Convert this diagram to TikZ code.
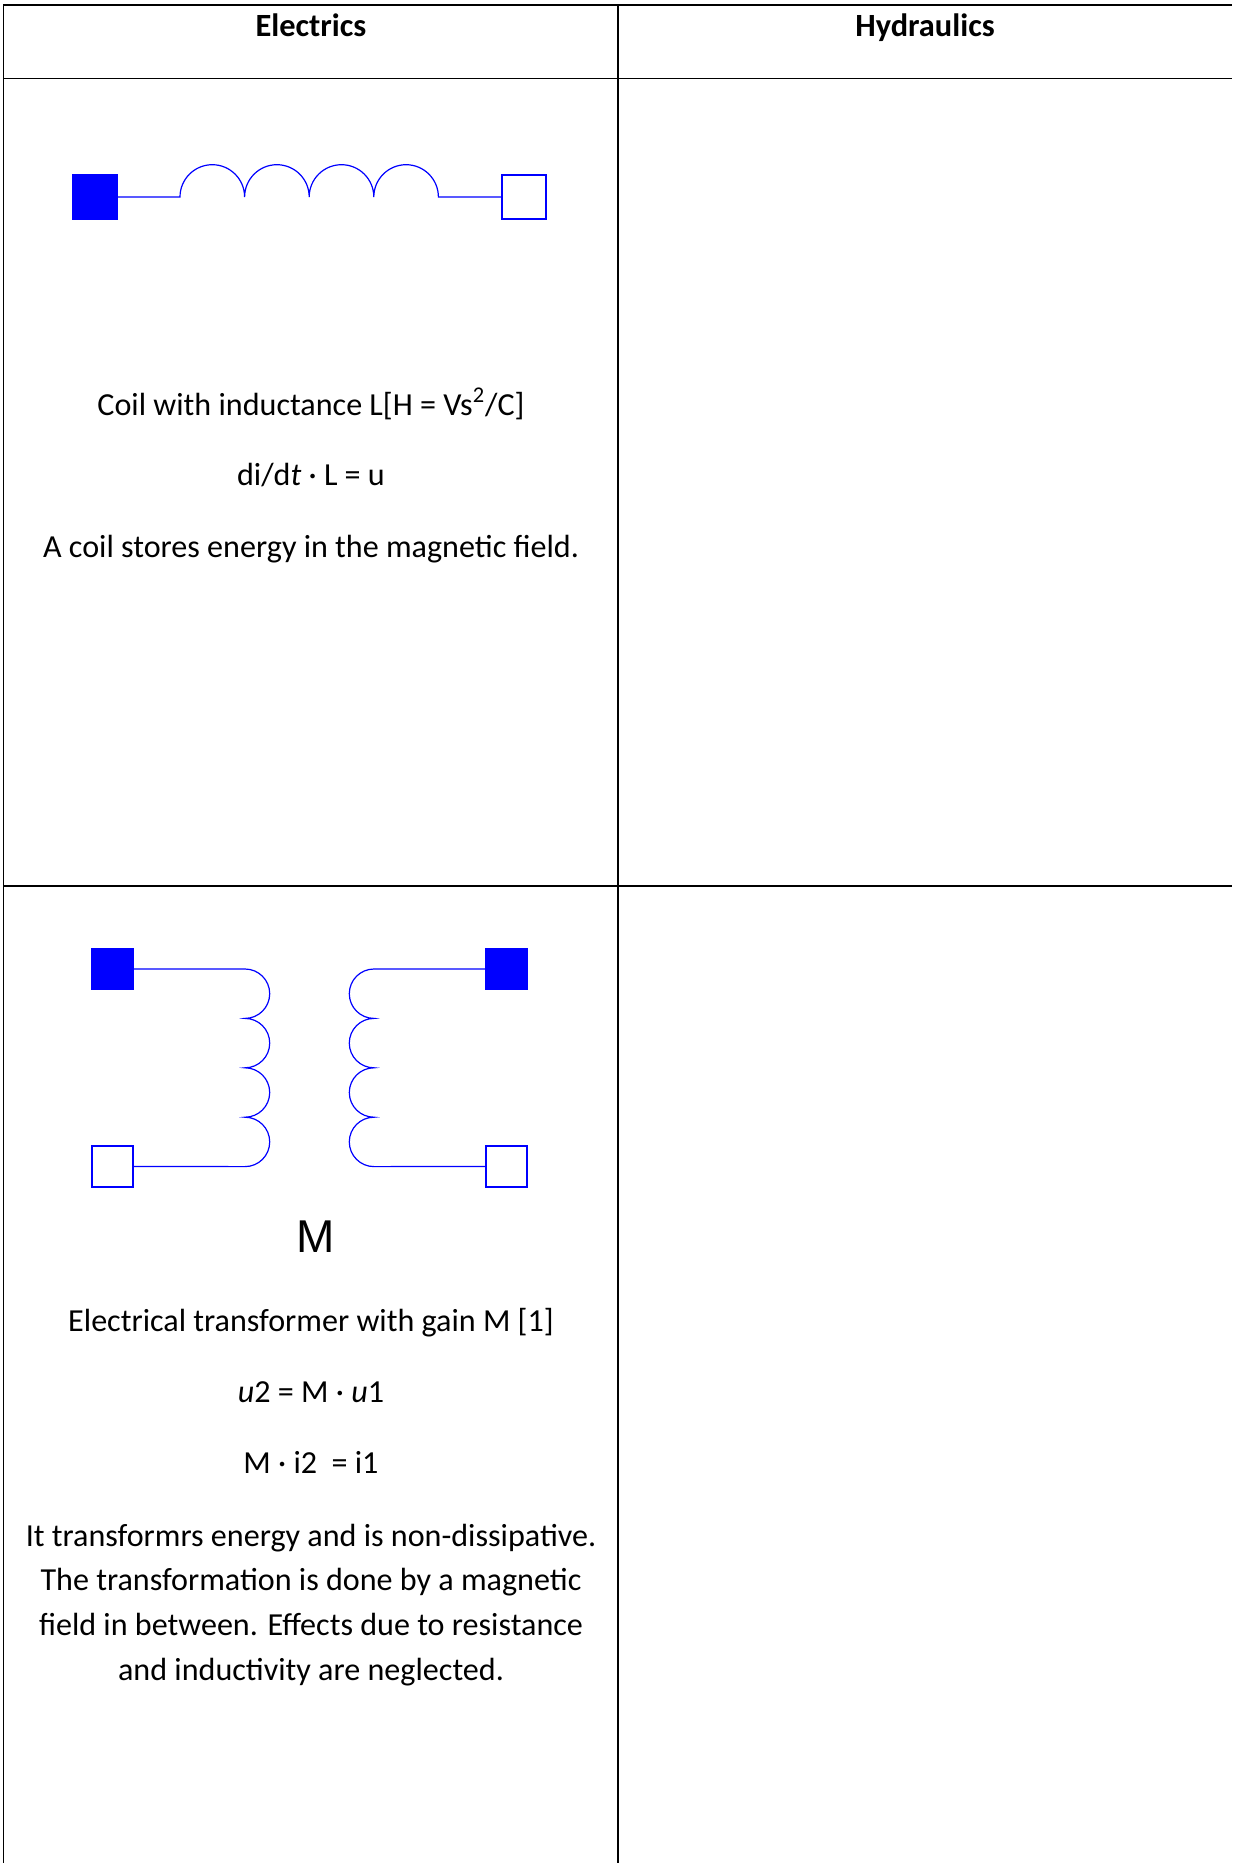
\documentclass[tikz,border=0pt]{standalone}
\usepackage{fontspec}
\setmainfont{Carlito}
\newfontfamily\labelfont{Liberation Sans}
\usetikzlibrary{positioning}

\tikzset{
  gridline/.style={line width=0.75pt},
  wire/.style={draw=blue, line width=0.6pt},
  pinfull/.style={rectangle, draw=blue, fill=blue, line width=0.6pt, inner sep=0pt, minimum size=#1},
  pinfull/.default=20.5pt,
  pinopen/.style={rectangle, draw=blue, fill=white, line width=0.6pt, inner sep=0pt, minimum size=#1},
  pinopen/.default=20.5pt,
  txt/.style={anchor=base, inner sep=0pt, font=\fontsize{16.05}{22.4}\selectfont},
  headtxt/.style={anchor=base, inner sep=0pt, font=\fontsize{16.2}{22.4}\selectfont\bfseries},
}

\begin{document}
\begin{tikzpicture}[x=0.5pt, y=-0.5pt]
\useasboundingbox (0,0) rectangle (1232,1863);

% table grid
\draw[gridline] (3.6,4.75) -- (1232,4.75);
\draw[gridline] (3.6,78.4) -- (1232,78.4);
\draw[gridline] (3.6,886) -- (1232,886);
\draw[gridline] (3.6,4) -- (3.6,1863);
\draw[gridline] (618,4) -- (618,1863);

% header
\node[headtxt] (hel) at (311,36) {Electrics};
\node[headtxt] (hhy) at (925,36) {Hydraulics};

% coil
\node[pinfull=22pt] (cpa) at (95,197) {};
\node[pinopen=22pt] (cpb) at (524,197) {};
\coordinate (cs) at (180,197);
\draw[wire] (cpa.east) -- (cs)
  arc[start angle=180, end angle=0, radius=16.15pt]
  arc[start angle=180, end angle=0, radius=16.15pt]
  arc[start angle=180, end angle=0, radius=16.15pt]
  arc[start angle=180, end angle=0, radius=16.15pt] -- (cpb.west);

\node[txt] (c1) at (311,415) {Coil with inductance L[H = Vs\textsuperscript{2}/C]};
\node[txt] (c2) at (311,485) {di/d\textit{t} · L = u};
\node[txt] (c3) at (311,557) {A coil stores energy in the magnetic field.};

% transformer
\node[pinfull] (tpa) at (112.5,969) {};
\node[pinopen] (tpb) at (112.5,1166.5) {};
\node[pinfull] (tpc) at (506.5,969) {};
\node[pinopen] (tpd) at (506.5,1166.5) {};
\coordinate (ls) at (245,969);
\coordinate (rs) at (374,969);
\draw[wire] (tpa.east) -- (ls)
  arc[start angle=90, end angle=-90, radius=12.35pt]
  arc[start angle=90, end angle=-90, radius=12.35pt]
  arc[start angle=90, end angle=-90, radius=12.35pt]
  arc[start angle=90, end angle=-90, radius=12.35pt] -- (tpb.east);
\draw[wire] (tpc.west) -- (rs)
  arc[start angle=90, end angle=270, radius=12.35pt]
  arc[start angle=90, end angle=270, radius=12.35pt]
  arc[start angle=90, end angle=270, radius=12.35pt]
  arc[start angle=90, end angle=270, radius=12.35pt] -- (tpd.west);

\node[anchor=base, inner sep=0pt, font=\labelfont\fontsize{23}{27}\selectfont] (mlab) at (316,1252) {M};

\node[txt] (t1) at (311,1331) {Electrical transformer with gain M [1]};
\node[txt] (t2) at (311,1402) {\textit{u}2 = M · \textit{u}1};
\node[txt] (t3) at (311,1473) {M · i2~~= i1};
\node[txt] (t4) at (311,1546) {It transformrs energy and is non-dissipative.};
\node[txt] (t5) at (311,1590) {The transformation is done by a magnetic};
\node[txt] (t6) at (311,1635) {field in between. Effects due to resistance};
\node[txt] (t7) at (311,1680) {and inductivity are neglected.};
\end{tikzpicture}
\end{document}
